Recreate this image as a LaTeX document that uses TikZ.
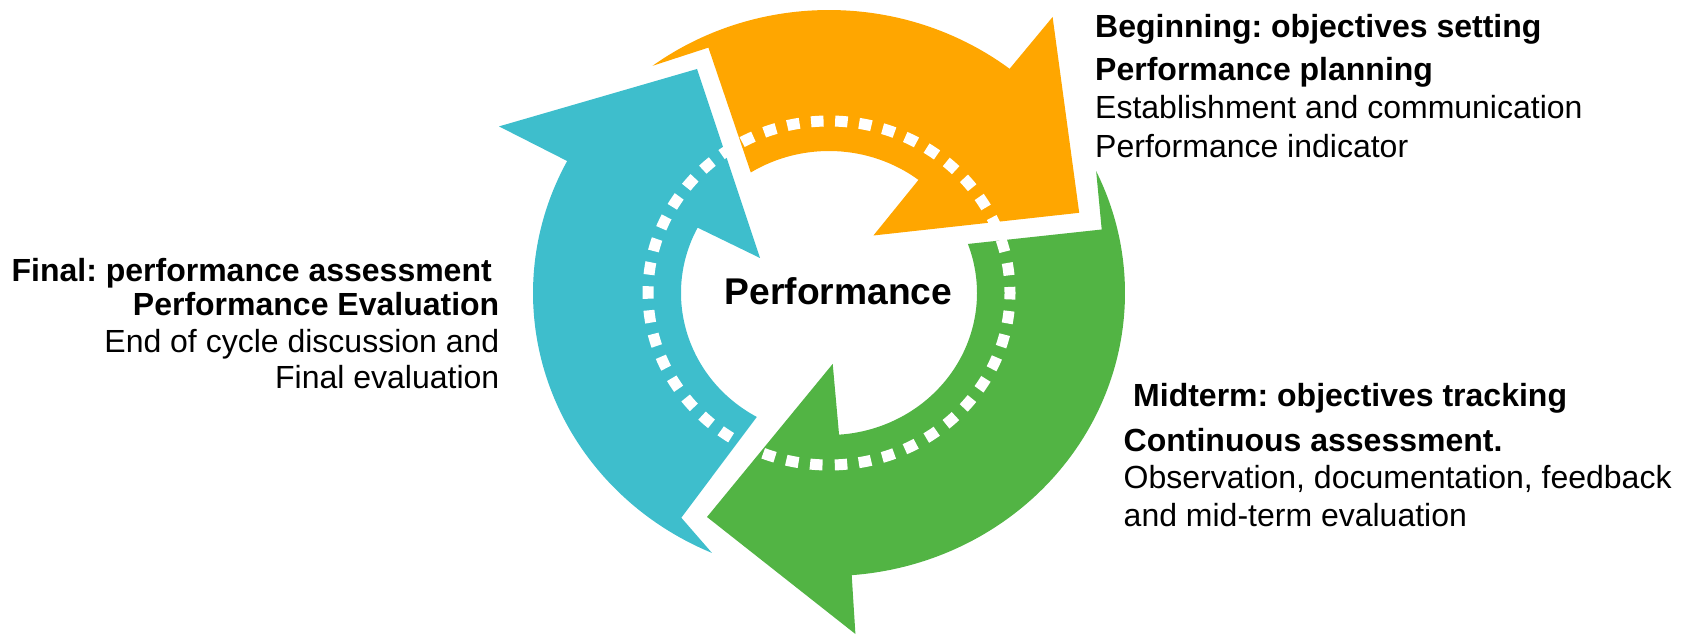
\documentclass[tikz,border=0pt]{standalone}
\usepackage{fontspec}
\setmainfont{Liberation Sans}
\frenchspacing
\definecolor{orng}{RGB}{255,166,0}
\definecolor{grn}{RGB}{82,180,68}
\definecolor{blu}{RGB}{62,190,204}
\begin{document}
\begin{tikzpicture}[x=1pt,y=1pt,
  hd/.style={font=\fontsize{32}{36}\selectfont\bfseries, inner sep=0pt},
  tx/.style={font=\fontsize{32}{36}\selectfont, inner sep=0pt},
  ctr/.style={font=\fontsize{37.2}{40}\selectfont\bfseries, inner sep=0pt}]
\useasboundingbox (0,0) rectangle (1683,-636);
\coordinate (C) at (829,-293);
% orange arrow
\fill[orng] ([shift={(C)}]126.6:296pt and 283pt)
  arc[start angle=126.6, end angle=52.4, x radius=296pt, y radius=283pt]
  -- (1052.6,-17) -- (1079.2,-212.8) -- (873.4,-235.5)
  -- ([shift={(C)}]52.8:148pt and 142pt)
  arc[start angle=52.8, end angle=121.9, x radius=148pt, y radius=142pt]
  -- (708.4,-47.6) -- cycle;
% blue arrow
\fill[blu] ([shift={(C)}]246.7:296pt and 283pt)
  arc[start angle=246.7, end angle=152.2, x radius=296pt, y radius=283pt]
  -- (499,-126.4) -- (697,-69) -- (760,-258)
  -- ([shift={(C)}]152.6:148pt and 142pt)
  arc[start angle=152.6, end angle=240.8, x radius=148pt, y radius=142pt]
  -- (681.3,-517.7) -- cycle;
% green arrow
\fill[grn] ([shift={(C)}]25.5:296pt and 283pt)
  arc[start angle=25.5, end angle=-85.6, x radius=296pt, y radius=283pt]
  -- (855.4,-634) -- (707,-517) -- (832.7,-363.9)
  -- ([shift={(C)}]-86.1:148pt and 142pt)
  arc[start angle=-86.1, end angle=20.2, x radius=148pt, y radius=142pt]
  -- (1101.7,-229.5) -- cycle;
% dotted ring
\draw[white, line width=11pt, dash pattern=on 12.5pt off 11.6pt, dash phase=18.3pt]
  ([shift={(C)}]-90:181pt and 172pt)
  arc[start angle=-90, end angle=270, x radius=181pt, y radius=172pt];
% centre
\node[ctr, anchor=base] (perf) at (838.6,-305) {Performance};
% beginning block
\node[hd, anchor=base west] (b1) at (1095,-38) {Beginning: objectives setting};
\node[hd, anchor=base west] (b2) at (1095,-81) {Performance planning};
\node[tx, anchor=base west] (b3) at (1095,-119) {Establishment and communication};
\node[tx, anchor=base west] (b4) at (1095,-157.5) {Performance indicator};
% final block
\node[hd, anchor=base east] (f1) at (492,-281) {Final: performance assessment};
\node[hd, anchor=base east] (f2) at (499.5,-315) {Performance Evaluation};
\node[tx, anchor=base east] (f3) at (499.5,-352) {End of cycle discussion and};
\node[tx, anchor=base east] (f4) at (499.5,-388) {Final evaluation};
% midterm block
\node[hd, anchor=base west] (m1) at (1133,-406) {Midterm: objectives tracking};
\node[hd, anchor=base west] (m2) at (1123.5,-451) {Continuous assessment.};
\node[tx, anchor=base west] (m3) at (1123.5,-488) {Observation, documentation, feedback};
\node[tx, anchor=base west] (m4) at (1123.5,-526) {and mid-term evaluation};
\end{tikzpicture}
\end{document}
